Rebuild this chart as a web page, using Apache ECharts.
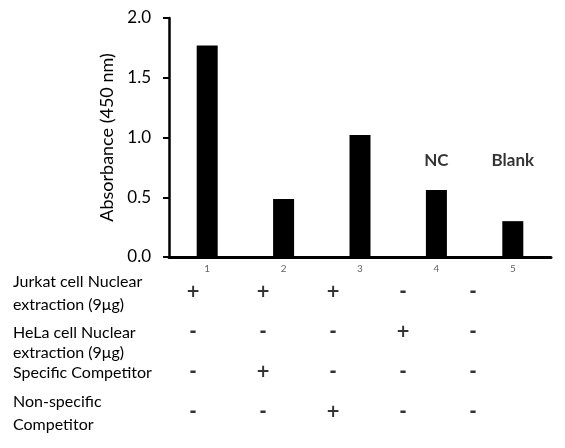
<!DOCTYPE html>
<html>
<head>
    <meta charset="utf-8">
    <title></title>
    <style type="text/css">
        html, body { margin: 0; padding: 0; background: #fff; }
    </style>
</head>
<body>
<div id="main" style="width: 565px;height:448px;"></div>

<script type="text/javascript" src="https://cdn.jsdelivr.net/npm/echarts@6/dist/echarts.min.js"></script>
<script type="text/javascript">
    // bar chart data
    var lanes = ['1', '2', '3', '4', '5'];
    var absorbance = [1.77, 0.485, 1.02, 0.56, 0.30];
    var laneNotes = ['', '', '', 'NC', 'Blank'];
    var noteLevel = 0.81;
    var yTicks = [0, 0.5, 1.0, 1.5, 2.0];

    // condition table under the chart
    var conditions = [
        'Jurkat cell Nuclear\nextraction (9\u03bcg)',
        'HeLa cell Nuclear\nextraction (9\u03bcg)',
        'Specific Competitor',
        'Non-specific\nCompetitor'
    ];
    var jurkat = ['+', '+', '+', '-', '-'];
    var hela = ['-', '-', '-', '+', '-'];
    var specific = ['-', '+', '-', '-', '-'];
    var nonSpecific = ['-', '-', '+', '-', '-'];

    var font = 'Lato';
    var signRows = [jurkat, hela, specific, nonSpecific];
    var signData = [];
    signRows.forEach(function (row, r) {
        row.forEach(function (s, c) {
            signData.push([c, r, s]);
        });
    });

    var noteData = laneNotes.map(function (n, i) {
        return n ? [i, noteLevel, n] : null;
    }).filter(function (d) { return d; });

    var myChart = echarts.init(document.getElementById('main'));
    myChart.setOption({
        animation: false,
        textStyle: { fontFamily: font },
        grid: [
            { left: 169, right: 14, top: 18, bottom: 191 },
            { left: 158, width: 350, top: 273, height: 160 }
        ],
        xAxis: [{
            gridIndex: 0,
            type: 'category',
            data: lanes,
            axisLine: { lineStyle: { color: '#000', width: 3 } },
            axisTick: { show: false },
            axisLabel: { color: '#666', fontSize: 10, margin: 7, fontFamily: font }
        }, {
            gridIndex: 1,
            type: 'category',
            data: lanes,
            show: false
        }],
        yAxis: [{
            gridIndex: 0,
            type: 'value',
            min: yTicks[0],
            max: yTicks[yTicks.length - 1],
            interval: 0.5,
            name: 'Absorbance (450 nm)',
            nameLocation: 'middle',
            nameGap: 44,
            nameTextStyle: { color: '#000', fontSize: 18, fontFamily: font },
            splitLine: { show: false },
            axisLine: { show: true, lineStyle: { color: '#000', width: 2.5 } },
            axisTick: { show: true, length: 6, lineStyle: { color: '#000', width: 2 } },
            axisLabel: {
                color: '#000', fontSize: 17, margin: 18, fontFamily: font,
                formatter: function (v) { return v.toFixed(1); }
            }
        }, {
            gridIndex: 1,
            type: 'category',
            data: conditions,
            inverse: true,
            axisLine: { show: false },
            axisTick: { show: false },
            axisLabel: {
                interval: 0,
                align: 'left',
                margin: 145,
                color: '#000',
                fontSize: 16,
                lineHeight: 23,
                fontFamily: font,
                formatter: function (v, i) {
                    var parts = v.split('\n');
                    if (i !== 1) {
                        return parts.map(function (s) { return '{b|' + s + '}'; }).join('\n');
                    }
                    return '{a|' + parts[0] + '}\n{b|' + parts[1] + '}';
                },
                rich: {
                    a: { fontSize: 16, lineHeight: 39, verticalAlign: 'bottom', color: '#000', fontFamily: font },
                    b: { fontSize: 16, lineHeight: 23, color: '#000', fontFamily: font }
                }
            }
        }],
        series: [{
            type: 'bar',
            xAxisIndex: 0,
            yAxisIndex: 0,
            data: absorbance,
            barWidth: 21,
            itemStyle: { color: '#000' }
        }, {
            type: 'scatter',
            xAxisIndex: 0,
            yAxisIndex: 0,
            data: noteData,
            symbolSize: 0,
            label: {
                show: true,
                position: 'inside',
                formatter: function (p) { return p.value[2]; },
                color: '#000',
                fontSize: 17,
                fontWeight: 'bold',
                fontFamily: font
            }
        }, {
            type: 'scatter',
            xAxisIndex: 1,
            yAxisIndex: 1,
            data: signData,
            symbolSize: 0,
            label: {
                show: true,
                position: 'inside',
                formatter: function (p) { return p.value[2]; },
                color: '#000',
                fontSize: 17,
                fontWeight: 'bold',
                fontFamily: 'DejaVu Sans'
            }
        }]
    });
</script>

</body>
</html>
